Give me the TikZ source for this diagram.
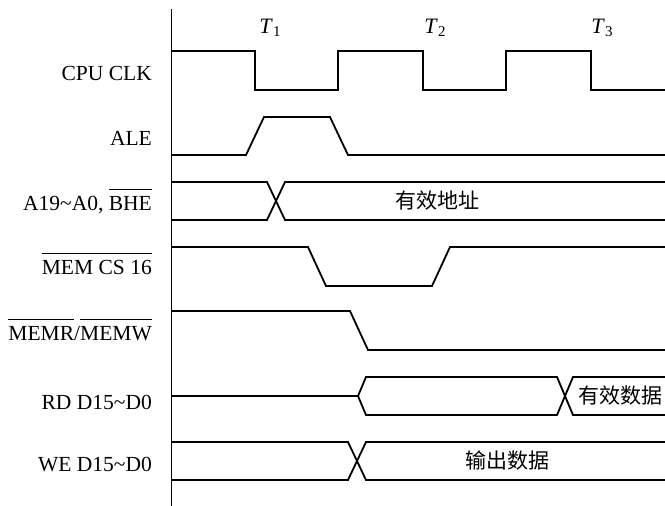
\documentclass[tikz,border=0pt]{standalone}
\usepackage{fontspec}
\setmainfont{Liberation Serif}
\newfontfamily\cjk{Noto Sans CJK SC}
\newcommand\ovr[1]{\leavevmode\vbox{\hrule height 1pt\vskip 5.5pt\hbox{#1}}}
\begin{document}
\begin{tikzpicture}[x=1pt,y=-1pt,
  sig/.style={line width=1.8pt,line join=miter},
  lbl/.style={anchor=base east,inner sep=0pt,font=\fontsize{21.5}{21.5}\selectfont},
  ttl/.style={inner sep=0pt,font=\fontsize{22}{22}\selectfont},
  cn/.style={inner sep=0pt,font=\fontsize{21}{21}\selectfont\cjk}]
\useasboundingbox (0,0) rectangle (665,506);
% axis
\draw[line width=1.2pt] (171.5,9) -- (171.5,506);
% period labels
\node[ttl] (t1) at (270,28) {\textit{T}\raisebox{-0.35ex}{\fontsize{15}{15}\selectfont 1}};
\node[ttl] (t2) at (435,28) {\textit{T}\raisebox{-0.35ex}{\fontsize{15}{15}\selectfont 2}};
\node[ttl] (t3) at (602,28) {\textit{T}\raisebox{-0.35ex}{\fontsize{15}{15}\selectfont 3}};
% signal labels
\node[lbl] (l1) at (152,80) {CPU CLK};
\node[lbl] (l2) at (152,145) {ALE};
\node[lbl] (l3) at (152,210) {A19\char`\~A0, \ovr{BHE}};
\node[lbl] (l4) at (152,274) {\ovr{MEM CS 16}};
\node[lbl] (l5) at (152,340) {\ovr{MEMR}/\ovr{MEMW}};
\node[lbl] (l6) at (152,409) {RD D15\char`\~D0};
\node[lbl] (l7) at (152,471) {WE D15\char`\~D0};
% CPU CLK
\draw[sig] (172,51) -- (255,51) -- (255,90) -- (338,90) -- (338,51) -- (423,51) -- (423,90)
  -- (506,90) -- (506,51) -- (591,51) -- (591,90) -- (665,90);
% ALE
\draw[sig] (172,155) -- (246,155) -- (264,117) -- (330,117) -- (348,155) -- (665,155);
% address
\draw[sig] (172,182) -- (267,182) -- (285,220) -- (665,220);
\draw[sig] (172,220) -- (267,220) -- (285,182) -- (665,182);
\node[cn] (addr) at (437,201) {有效地址};
% MEM CS 16
\draw[sig] (172,247) -- (308,247) -- (326,286) -- (432,286) -- (450,247) -- (665,247);
% MEMR/MEMW
\draw[sig] (172,311) -- (350,311) -- (368,350) -- (665,350);
% RD data
\draw[sig] (172,396) -- (358,396);
\draw[sig] (665,377) -- (573,377) -- (557,415) -- (366,415) -- (358,396) -- (366,377) -- (557,377) -- (573,415) -- (665,415);
\node[cn] (rdd) at (620,396) {有效数据};
% WE data
\draw[sig] (172,442) -- (348,442) -- (366,480) -- (665,480);
\draw[sig] (172,480) -- (348,480) -- (366,442) -- (665,442);
\node[cn] (wed) at (507,461) {输出数据};
\end{tikzpicture}
\end{document}
